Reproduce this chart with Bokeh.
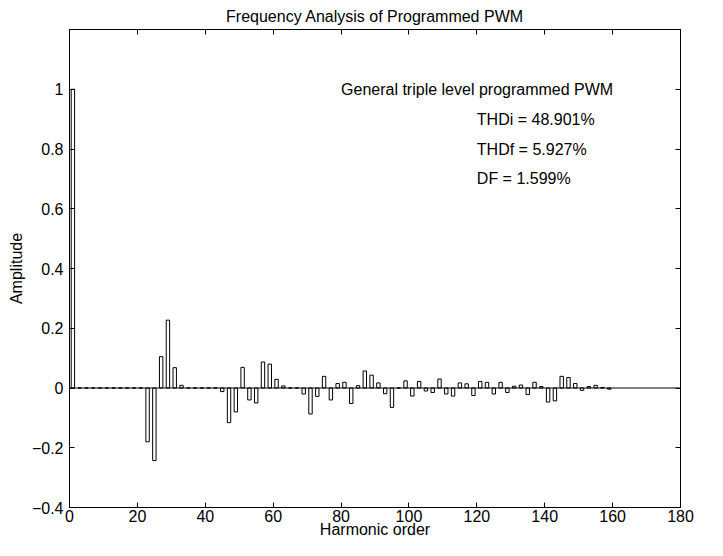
from bokeh.plotting import figure
from bokeh.models import Range1d, LinearAxis, FixedTicker, Span, Label
from bokeh.embed import file_html
from bokeh.resources import INLINE

harmonics = list(range(1, 161, 2))
amplitudes = [
    1.0,                                                     # 1
    0, 0, 0, 0, 0, 0, 0, 0, 0, 0,                            # 3..21
    -0.18, -0.243, 0.105, 0.227, 0.068, 0.009,               # 23..33
    0, 0, 0, 0, 0,                                           # 35..43
    -0.012, -0.116, -0.08, 0.069, -0.04, -0.05,              # 45..55
    0.087, 0.08, 0.029, 0.007, 0, 0,                         # 57..67
    -0.02, -0.087, -0.028, 0.039, -0.04, 0.015,              # 69..79
    0.019, -0.052, 0.008, 0.057, 0.043, 0.017,               # 81..91
    -0.019, -0.065, 0.0, 0.024, -0.027, 0.022,               # 93..103
    -0.01, -0.015, 0.03, -0.02, -0.027, 0.017,               # 105..115
    0.014, -0.025, 0.022, 0.019, -0.02, 0.019,               # 117..127
    -0.015, 0.006, 0.01, -0.022, 0.019, 0.005,               # 129..139
    -0.047, -0.043, 0.039, 0.035, 0.015, -0.008,             # 141..151
    0.005, 0.009, 0.002, -0.004,                             # 153..159
]

x_ticks = [0, 20, 40, 60, 80, 100, 120, 140, 160, 180]
y_ticks = [-0.4, -0.2, 0, 0.2, 0.4, 0.6, 0.8, 1]
y_tick_labels = ["\u22120.4", "\u22120.2", "0", "0.2", "0.4", "0.6", "0.8", "1"]

title_text = "Frequency Analysis of Programmed PWM"
x_label = "Harmonic order"
y_label = "Amplitude"
notes = ["General triple level programmed PWM", "THDi = 48.901%", "THDf = 5.927%", "DF = 1.599%"]

FONT = "Liberation Sans"
FS = "16px"

p = figure(width=707, height=540, output_backend="svg", toolbar_location=None,
           x_range=Range1d(0, 180), y_range=Range1d(-0.4, 1.2),
           min_border_left=69, min_border_right=27, min_border_top=28, min_border_bottom=32,
           x_axis_label=x_label, y_axis_label=y_label)

p.title.text = title_text
p.title.text_font = FONT
p.title.text_font_size = FS
p.title.text_font_style = "normal"
p.title.text_color = "black"
p.title.align = "center"
p.title.standoff = 10
p.title.offset = 0

p.xgrid.visible = False
p.ygrid.visible = False
p.outline_line_color = "black"
p.outline_line_alpha = 1
p.background_fill_color = "white"
p.border_fill_color = "white"

p.vbar(x=harmonics, top=amplitudes, bottom=0, width=1.0,
       fill_color="white", line_color="black", line_width=1)

p.add_layout(Span(location=0, dimension="width", line_color="black", line_width=1))

def style_axis(ax, labels=True):
    ax.axis_line_color = "black"
    ax.major_tick_line_color = "black"
    ax.major_tick_in = 5
    ax.major_tick_out = 0
    ax.minor_tick_line_color = None
    ax.major_label_text_font = FONT
    ax.major_label_text_color = "black"
    if labels:
        ax.major_label_text_font_size = FS
        ax.axis_label_text_font = FONT
        ax.axis_label_text_font_size = FS
        ax.axis_label_text_font_style = "normal"
        ax.axis_label_text_color = "black"
    else:
        ax.major_label_text_font_size = "1px"
        ax.major_label_standoff = 0
        ax.axis_label = None

p.xaxis.ticker = FixedTicker(ticks=x_ticks)
p.yaxis.ticker = FixedTicker(ticks=y_ticks)
p.yaxis.major_label_overrides = {t: s for t, s in zip(y_ticks, y_tick_labels)}
for ax in p.xaxis:
    style_axis(ax)
    ax.major_label_standoff = 2
    ax.axis_label_standoff = -4
for ax in p.yaxis:
    style_axis(ax)
    ax.major_label_standoff = 6
    ax.axis_label_standoff = 4

top_ax = LinearAxis(ticker=FixedTicker(ticks=x_ticks))
style_axis(top_ax, labels=False)
top_ax.major_label_overrides = {t: "" for t in x_ticks}
p.add_layout(top_ax, "above")
right_ax = LinearAxis(ticker=FixedTicker(ticks=y_ticks))
style_axis(right_ax, labels=False)
right_ax.major_label_overrides = {t: "" for t in y_ticks}
p.add_layout(right_ax, "right")

note_pos = [(80, 1.0), (120, 0.9), (120, 0.8), (120, 0.7)]
for (nx, ny), txt in zip(note_pos, notes):
    p.add_layout(Label(x=nx, y=ny, text=txt, text_font=FONT, text_font_size=FS,
                       text_baseline="middle", text_align="left", text_color="black"))

open("out.html", "w").write(file_html(p, INLINE))
